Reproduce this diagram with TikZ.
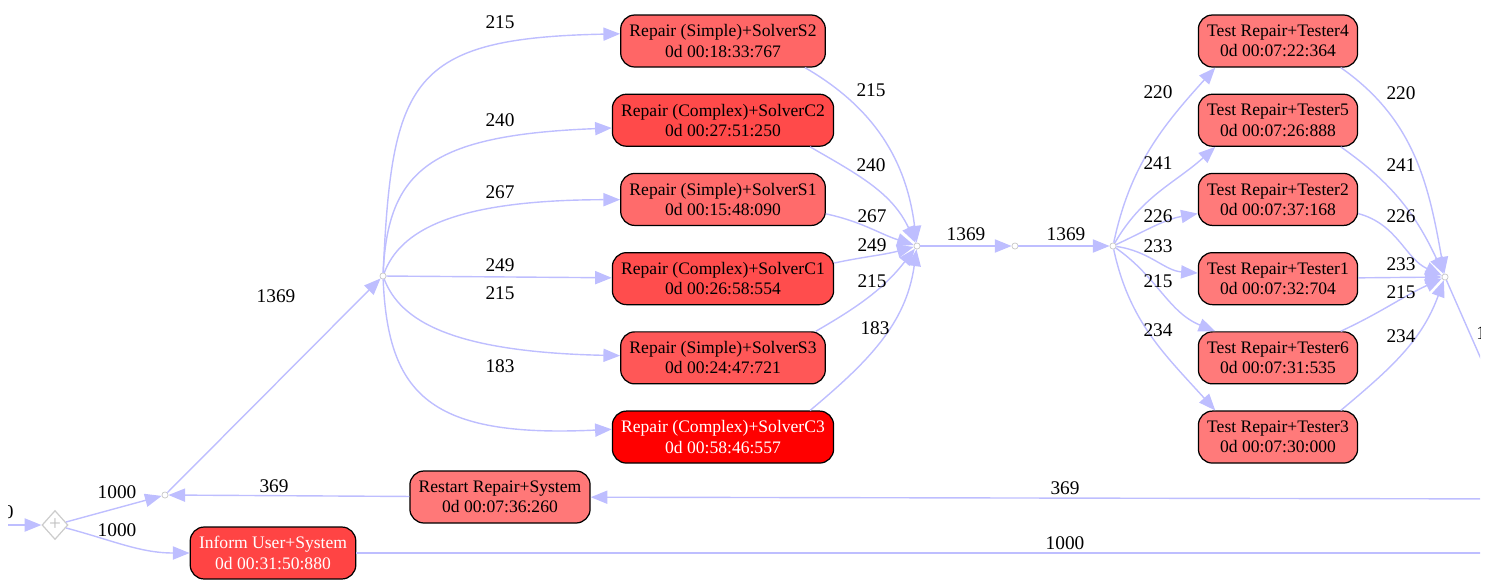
\documentclass[tikz,border=0pt]{standalone}
\usepackage{fontspec}
\setmainfont{Liberation Serif}
\usepackage{xcolor}
\usepackage{tikz}
\usetikzlibrary{arrows.meta, positioning, shapes.geometric}

\definecolor{flowblue}{RGB}{190,190,255}
\definecolor{cSimpleTwo}{RGB}{255,102,102}
\definecolor{cComplexTwo}{RGB}{255,74,74}
\definecolor{cSimpleOne}{RGB}{255,107,107}
\definecolor{cComplexOne}{RGB}{255,77,77}
\definecolor{cSimpleThree}{RGB}{255,87,87}
\definecolor{cComplexThree}{RGB}{255,0,0}
\definecolor{cTest}{RGB}{255,122,122}
\definecolor{cRestart}{RGB}{255,120,120}
\definecolor{cInform}{RGB}{255,68,68}

\begin{document}
\begin{tikzpicture}[
      x=0.02cm, y=0.02cm,
      node distance=0.52cm and 1.5cm,
      act/.style={draw, rounded corners=8pt, line width=0.7pt, align=center, font=\fontsize{10}{11.5}\selectfont, minimum height=1.04cm, inner xsep=5pt},
      joint/.style={circle, draw=gray!45, fill=white, inner sep=0pt, minimum size=3.5pt},
      xorsplit/.style={diamond, draw=gray!40, line width=0.7pt, minimum width=0.52cm, minimum height=0.58cm, inner sep=0pt, text=gray!50, font=\fontsize{12}{12}\selectfont},
      lbl/.style={font=\fontsize{11}{13}\selectfont, inner sep=0pt},
      arrow/.style={-{Triangle[length=9.5pt, width=7.5pt]}, draw=flowblue, line width=0.8pt}
    ]
    \useasboundingbox (0,0) rectangle (1491,-579);
    \clip (8,0) rectangle (1480,-579);

    % repair column
    \node[act, fill=cSimpleTwo] (s2) at (723,-41) {Repair (Simple)+SolverS2\\0d 00:18:33:767};
    \node[act, fill=cComplexTwo] (c2) [below=of s2] {Repair (Complex)+SolverC2\\0d 00:27:51:250};
    \node[act, fill=cSimpleOne] (s1) [below=of c2] {Repair (Simple)+SolverS1\\0d 00:15:48:090};
    \node[act, fill=cComplexOne] (c1) [below=of s1] {Repair (Complex)+SolverC1\\0d 00:26:58:554};
    \node[act, fill=cSimpleThree] (s3) [below=of c1] {Repair (Simple)+SolverS3\\0d 00:24:47:721};
    \node[act, fill=cComplexThree, text=white] (c3) [below=of s3] {Repair (Complex)+SolverC3\\0d 00:58:46:557};

    % test column
    \node[act, fill=cTest] (t4) at (1278,-41) {Test Repair+Tester4\\0d 00:07:22:364};
    \node[act, fill=cTest] (t5) [below=of t4] {Test Repair+Tester5\\0d 00:07:26:888};
    \node[act, fill=cTest] (t2) [below=of t5] {Test Repair+Tester2\\0d 00:07:37:168};
    \node[act, fill=cTest] (t1) [below=of t2] {Test Repair+Tester1\\0d 00:07:32:704};
    \node[act, fill=cTest] (t6) [below=of t1] {Test Repair+Tester6\\0d 00:07:31:535};
    \node[act, fill=cTest] (t3) [below=of t6] {Test Repair+Tester3\\0d 00:07:30:000};

    \node[act, fill=cRestart] (rs) at (500,-497) {Restart Repair+System\\0d 00:07:36:260};
    \node[act, fill=cInform, text=white] (inf) at (273,-553) {Inform User+System\\0d 00:31:50:880};

    % gateways
    \node[xorsplit] (xs) at (55,-525) {+};
    \node[joint] (j0) at (165,-495) {};
    \node[joint] (sp1) at (383,-276) {};
    \node[joint] (j1) at (917,-246) {};
    \node[joint] (m1) at (1015,-246) {};
    \node[joint] (sp2) at (1113,-246) {};
    \node[joint] (j3) at (1445,-277) {};
    \coordinate (in0) at (-40,-525);
    \coordinate (in369) at (1540,-499);
    \coordinate (out1000) at (1540,-553);
    \coordinate (out3) at (1521,-450);

    \draw[arrow] (in0) -- (xs);
    \draw[arrow] (xs) -- (j0);
    \draw[arrow] (xs) to[out=-15, in=180] (inf);
    \draw[arrow] (rs) -- (j0);
    \draw[arrow] (j0) -- (sp1);
    \draw[arrow] (in369) -- (rs);
    \draw[arrow] (inf) -- (out1000);

    \draw[arrow] (sp1) .. controls (392,-80) and (410,-38) .. (s2.176);
    \draw[arrow] (sp1) .. controls (388,-170) and (430,-135) .. (c2.184);
    \draw[arrow] (sp1) .. controls (400,-232) and (450,-200) .. (s1);
    \draw[arrow] (sp1) -- (c1);
    \draw[arrow] (sp1) .. controls (400,-320) and (450,-352) .. (s3);
    \draw[arrow] (sp1) .. controls (388,-395) and (430,-438) .. (c3.176);

    \draw[arrow] (s2.-18) to[out=-30, in=97] (j1);
    \draw[arrow] (c2.-17) to[out=-30, in=115] (j1);
    \draw[arrow] (s1.-8) to[out=-12, in=162] (j1);
    \draw[arrow] (c1.8) to[out=12, in=195] (j1);
    \draw[arrow] (s3.16) to[out=30, in=232] (j1);
    \draw[arrow] (c3.17) to[out=40, in=262] (j1);

    \draw[arrow] (j1) -- (m1);
    \draw[arrow] (m1) -- (sp2);

    \draw[arrow] (sp2) to[out=78, in=228] (t4.203);
    \draw[arrow] (sp2) to[out=60, in=222] (t5.203);
    \draw[arrow] (sp2) to[out=25, in=190] (t2.190);
    \draw[arrow] (sp2) to[out=-8, in=176] (t1.176);
    \draw[arrow] (sp2) to[out=-35, in=158] (t6.157);
    \draw[arrow] (sp2) to[out=-78, in=132] (t3.157);

    \draw[arrow] (t4.-23) to[out=-35, in=100] (j3);
    \draw[arrow] (t5.-23) to[out=-35, in=115] (j3);
    \draw[arrow] (t2.-10) to[out=-15, in=155] (j3);
    \draw[arrow] (t1) -- (j3);
    \draw[arrow] (t6.23) to[out=25, in=205] (j3);
    \draw[arrow] (t3.23) to[out=40, in=250] (j3);
    \draw[arrow] (j3) -- (out3);

    % counts
    \foreach \x/\y/\t [count=\i] in {
        117/492/1000, 117/530/1000, 274/486/369, 276/296/1369,
        500/22/215, 500/120/240, 500/192/267, 500/265/249, 500/293/215, 500/366/183,
        871/90/215, 871/165/240, 872/216/267, 872/245/249, 872/281/215, 875/328/183,
        966/234/1369, 1066/234/1369,
        1158/92/220, 1158/163/241, 1158/216/226, 1158/246/233, 1158/281/215, 1158/330/234,
        1401/93/220, 1401/165/241, 1401/216/226, 1401/264/233, 1401/292/215, 1401/336/234,
        1065/488/369, 1065/543/1000}
      \node[lbl] (n\i) at (\x,-\y) {\t};
    \node[lbl, anchor=east] (nin) at (14,-512) {1000};
    \node[lbl, anchor=west] (nout) at (1476,-333) {1369};

\end{tikzpicture}
\end{document}
